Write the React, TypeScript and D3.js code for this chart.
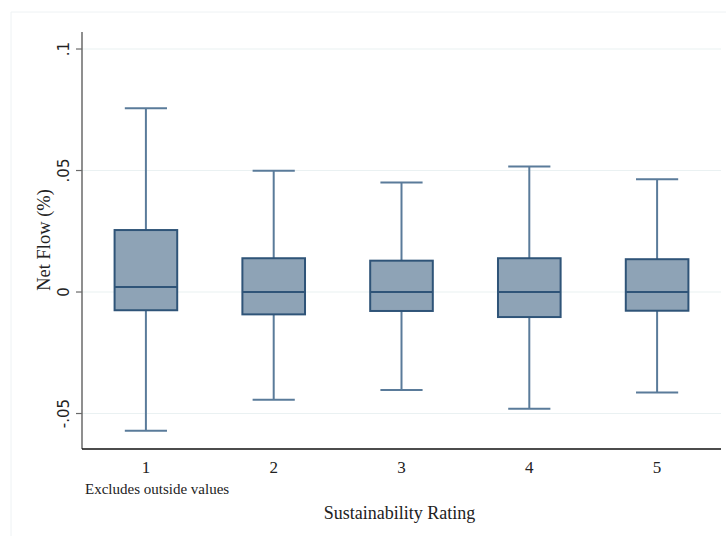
import React from "react";
import * as d3 from "d3";

const categories = ["1", "2", "3", "4", "5"];
const upperWhisker = [0.0756, 0.0499, 0.0451, 0.0517, 0.0464];
const q3 = [0.0255, 0.0139, 0.0129, 0.0139, 0.0135];
const median = [0.0021, 0.0, 0.0, 0.0, 0.0];
const q1 = [-0.0075, -0.0092, -0.0078, -0.0103, -0.0077];
const lowerWhisker = [-0.0571, -0.0443, -0.0403, -0.048, -0.0414];
const yTicks = [0.1, 0.05, 0, -0.05];
const yTickLabels = [".1", ".05", "0", "-.05"];

const W = 726;
const H = 536;
const left = 82;
const right = 721;
const top = 32;
const bottom = 449;

export default function App() {
  const y = d3.scaleLinear().domain([-0.0646, 0.107]).range([bottom, top]);
  const x = d3.scaleBand().domain(categories).range([left, right]).paddingInner(0).paddingOuter(0);
  const bw = x.bandwidth();
  const boxW = bw * 0.49;
  const capW = bw * 0.33;
  const boxStroke = "#2f5478";
  const whiskerStroke = "#5a7b9a";
  const fill = "#8ea3b6";

  return (
    <svg width={W} height={H} style={{ position: "absolute", left: 0, top: 0, background: "#fff" }}>
      <rect x={0} y={0} width={W} height={H} fill="#fff" />
      <line x1={11} x2={W} y1={12} y2={12} stroke="#eef2f4" strokeWidth={1} />
      <line x1={11} x2={11} y1={12} y2={H} stroke="#eef2f4" strokeWidth={1} />
      {yTicks.map((t, i) => (
        <g key={i}>
          <line x1={left} x2={right} y1={y(t)} y2={y(t)} stroke="#eaf1f2" strokeWidth={1.2} />
          <line x1={left - 6} x2={left} y1={y(t)} y2={y(t)} stroke="#6a6a6a" strokeWidth={1.2} />
          <text
            transform={`translate(${69},${y(t)}) rotate(-90)`}
            textAnchor="middle"
            fontFamily="DejaVu Sans, Liberation Sans, sans-serif"
            fontSize={15}
            fill="#222"
          >
            {yTickLabels[i]}
          </text>
        </g>
      ))}
      <line x1={left} x2={left} y1={top} y2={bottom} stroke="#6a6a6a" strokeWidth={1.5} />
      <line x1={left} x2={right} y1={bottom} y2={bottom} stroke="#111" strokeWidth={1.5} />
      {categories.map((c, i) => {
        const cx = (x(c) as number) + bw / 2;
        return (
          <g key={c}>
            <line x1={cx} x2={cx} y1={y(upperWhisker[i])} y2={y(q3[i])} stroke={whiskerStroke} strokeWidth={2} />
            <line x1={cx} x2={cx} y1={y(q1[i])} y2={y(lowerWhisker[i])} stroke={whiskerStroke} strokeWidth={2} />
            <line x1={cx - capW / 2} x2={cx + capW / 2} y1={y(upperWhisker[i])} y2={y(upperWhisker[i])} stroke={whiskerStroke} strokeWidth={2} />
            <line x1={cx - capW / 2} x2={cx + capW / 2} y1={y(lowerWhisker[i])} y2={y(lowerWhisker[i])} stroke={whiskerStroke} strokeWidth={2} />
            <rect
              x={cx - boxW / 2}
              y={y(q3[i])}
              width={boxW}
              height={y(q1[i]) - y(q3[i])}
              fill={fill}
              stroke={boxStroke}
              strokeWidth={2}
            />
            <line x1={cx - boxW / 2} x2={cx + boxW / 2} y1={y(median[i])} y2={y(median[i])} stroke={boxStroke} strokeWidth={2} />
            <text
              x={cx}
              y={bottom + 24}
              textAnchor="middle"
              fontFamily="Liberation Serif, Times New Roman, serif"
              fontSize={17}
              fill="#222"
            >
              {c}
            </text>
          </g>
        );
      })}
      <text x={85} y={494} fontFamily="Liberation Serif, Times New Roman, serif" fontSize={15} fill="#222">
        Excludes outside values
      </text>
      <text x={(left + right) / 2 - 2} y={519} textAnchor="middle" fontFamily="Liberation Serif, Times New Roman, serif" fontSize={18} fill="#222">
        Sustainability Rating
      </text>
      <text
        transform={`translate(${50},${240}) rotate(-90)`}
        textAnchor="middle"
        fontFamily="Liberation Serif, Times New Roman, serif"
        fontSize={18.5}
        fill="#222"
      >
        Net Flow (%)
      </text>
    </svg>
  );
}
